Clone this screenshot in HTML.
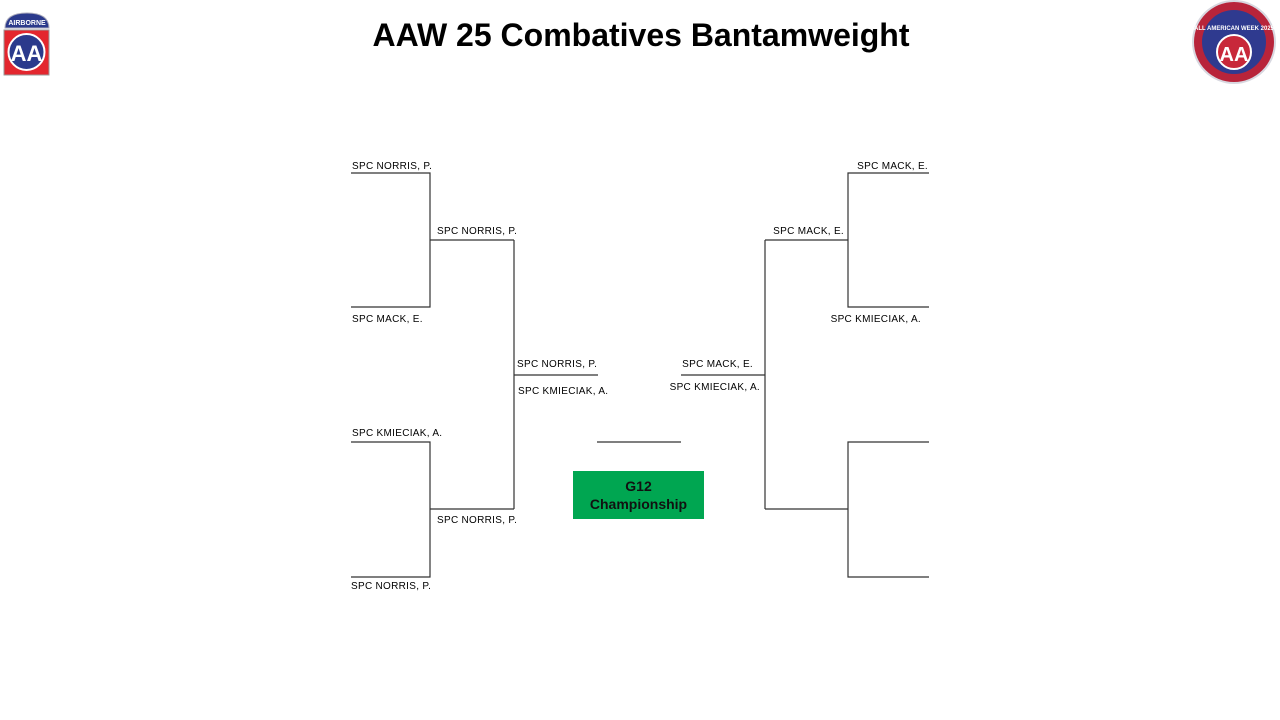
<!DOCTYPE html>
<html><head><meta charset="utf-8"><style>
html,body{margin:0;padding:0;background:#fff;}
svg{display:block;}
text{font-family:"Liberation Sans",Arial,sans-serif;}
</style></head><body>
<svg width="1280" height="720" viewBox="0 0 1280 720" xmlns="http://www.w3.org/2000/svg">
<rect width="1280" height="720" fill="#fff"/>
<text x="641" y="46" text-anchor="middle" font-size="32" font-weight="bold" fill="#000">AAW 25 Combatives Bantamweight</text>

<g>
<path d="M5 28 Q5 13 27 13 Q49 13 49 28 Z" fill="#2b3a8c" stroke="#aab" stroke-width="1"/>
<text x="27" y="25" text-anchor="middle" font-size="7" font-weight="bold" fill="#fff">AIRBORNE</text>
<rect x="4" y="30" width="45" height="45" fill="#e3262e" stroke="#999" stroke-width="1"/>
<circle cx="26.5" cy="52" r="18" fill="#2b3a8c" stroke="#fff" stroke-width="2"/>
<text x="26.5" y="61" text-anchor="middle" font-size="22" font-weight="bold" fill="#fff">AA</text>
</g>

<g>
<circle cx="1234" cy="42" r="42" fill="#d8d8e0"/>
<circle cx="1234" cy="42" r="40" fill="#b8243a"/>
<circle cx="1234" cy="42" r="32" fill="#2f3a8f"/>
<circle cx="1234" cy="52" r="17" fill="#c8283a" stroke="#fff" stroke-width="2"/>
<text x="1234" y="61" text-anchor="middle" font-size="20" font-weight="bold" fill="#fff">AA</text>
<text x="1234" y="30" text-anchor="middle" font-size="6" font-weight="bold" fill="#fff">ALL AMERICAN WEEK 2025</text>
</g>

<g stroke="#333" stroke-width="1.2" fill="none">
<path d="M351 173H430V307H351"/>
<path d="M430 240H514"/>
<path d="M351 442H430V577H351"/>
<path d="M430 509H514"/>
<path d="M514 240V509"/>
<path d="M514 375H598"/>
<path d="M597 442H681"/>
<path d="M929 173H848V307H929"/>
<path d="M848 240H765"/>
<path d="M929 442H848V577H929"/>
<path d="M848 509H765"/>
<path d="M765 240V509"/>
<path d="M765 375H681"/>
</g>

<g font-size="10" fill="#000" letter-spacing="0.3">
<text x="352" y="169">SPC NORRIS, P.</text>
<text x="437" y="234">SPC NORRIS, P.</text>
<text x="352" y="322">SPC MACK, E.</text>
<text x="352" y="436">SPC KMIECIAK, A.</text>
<text x="437" y="523">SPC NORRIS, P.</text>
<text x="351" y="589">SPC NORRIS, P.</text>
<text x="517" y="367">SPC NORRIS, P.</text>
<text x="518" y="394">SPC KMIECIAK, A.</text>
<text x="928" y="169" text-anchor="end">SPC MACK, E.</text>
<text x="844" y="234" text-anchor="end">SPC MACK, E.</text>
<text x="921" y="322" text-anchor="end">SPC KMIECIAK, A.</text>
<text x="753" y="367" text-anchor="end">SPC MACK, E.</text>
<text x="760" y="390" text-anchor="end">SPC KMIECIAK, A.</text>
</g>

<rect x="573" y="471" width="131" height="48" fill="#00a651"/>
<text x="638.5" y="491" text-anchor="middle" font-size="14" font-weight="bold" fill="#111">G12</text>
<text x="638.5" y="509" text-anchor="middle" font-size="14" font-weight="bold" fill="#111">Championship</text>
</svg>
</body></html>
